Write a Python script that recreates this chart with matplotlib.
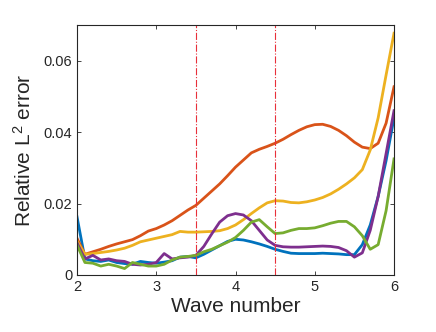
"""
Relative L2 error vs wave number
"""

import numpy as np
import matplotlib.pyplot as plt

plt.rcParams['font.family'] = ['Liberation Sans', 'DejaVu Sans']
plt.rcParams['mathtext.fontset'] = 'custom'
plt.rcParams['mathtext.rm'] = 'Liberation Sans'
plt.rcParams['mathtext.it'] = 'Liberation Sans'

wave = np.round(np.arange(2.0, 6.01, 0.1), 1)

err_blue = [0.0163, 0.0045, 0.0040, 0.0038, 0.0042, 0.0035, 0.0032, 0.0030, 0.0038, 0.0035,
            0.0033, 0.0036, 0.0040, 0.0050, 0.0052, 0.0048, 0.0058, 0.0070, 0.0082, 0.0094,
            0.0100, 0.0098, 0.0093, 0.0087, 0.0080, 0.0072, 0.0066, 0.0061, 0.0060, 0.0060,
            0.0060, 0.0061, 0.0060, 0.0059, 0.0057, 0.0057, 0.0085, 0.0140, 0.0220, 0.0320,
            0.0440]
err_orange = [0.0103, 0.0058, 0.0065, 0.0072, 0.0080, 0.0087, 0.0093, 0.0099, 0.0110, 0.0123,
              0.0130, 0.0140, 0.0152, 0.0167, 0.0182, 0.0195, 0.0215, 0.0235, 0.0255, 0.0278,
              0.0302, 0.0322, 0.0342, 0.0352, 0.0360, 0.0369, 0.0380, 0.0393, 0.0405, 0.0415,
              0.0421, 0.0422, 0.0416, 0.0405, 0.0390, 0.0372, 0.0358, 0.0354, 0.0369, 0.0425,
              0.0527]
err_yellow = [0.0095, 0.0058, 0.0060, 0.0063, 0.0066, 0.0070, 0.0075, 0.0083, 0.0093, 0.0098,
              0.0103, 0.0108, 0.0113, 0.0122, 0.0120, 0.0120, 0.0121, 0.0122, 0.0124, 0.0130,
              0.0140, 0.0155, 0.0172, 0.0188, 0.0202, 0.0208, 0.0207, 0.0203, 0.0202, 0.0205,
              0.0210, 0.0217, 0.0227, 0.0240, 0.0255, 0.0272, 0.0295, 0.0350, 0.0440, 0.0560,
              0.0677]
err_purple = [0.0090, 0.0045, 0.0055, 0.0042, 0.0045, 0.0040, 0.0038, 0.0030, 0.0028, 0.0030,
              0.0035, 0.0060, 0.0045, 0.0048, 0.0050, 0.0055, 0.0080, 0.0115, 0.0148, 0.0166,
              0.0172, 0.0168, 0.0152, 0.0125, 0.0098, 0.0083, 0.0079, 0.0078, 0.0078, 0.0079,
              0.0080, 0.0081, 0.0080, 0.0077, 0.0068, 0.0050, 0.0062, 0.0125, 0.0220, 0.0340,
              0.0460]
err_green = [0.0084, 0.0035, 0.0033, 0.0025, 0.0030, 0.0025, 0.0018, 0.0035, 0.0030, 0.0025,
             0.0025, 0.0030, 0.0042, 0.0050, 0.0052, 0.0055, 0.0065, 0.0072, 0.0082, 0.0092,
             0.0105, 0.0125, 0.0148, 0.0155, 0.0135, 0.0116, 0.0118, 0.0125, 0.0130, 0.0130,
             0.0132, 0.0138, 0.0145, 0.0150, 0.0150, 0.0135, 0.0110, 0.0072, 0.0085, 0.0180,
             0.0325]

series = [err_blue, err_orange, err_yellow, err_purple, err_green]
colors = ['#0072BD', '#D95319', '#EDB120', '#7E2F8E', '#77AC30']
vlines = [3.5, 4.5]

xticks = [2, 3, 4, 5, 6]
yticks = [0, 0.02, 0.04, 0.06]
ytick_labels = ['0', '0.02', '0.04', '0.06']

fig = plt.figure(figsize=(4.36, 3.32), dpi=100)
ax = fig.add_axes([0.1766, 0.1717, 0.7271, 0.7530])

for s, c in zip(series, colors):
    ax.plot(wave, s, color=c, lw=2.0)

for v in vlines:
    ax.axvline(v, color='#E8303A', lw=0.8, ls='-.')

ax.set_xlim(2, 6)
ax.set_ylim(0, 0.07)
ax.set_xticks(xticks)
ax.set_xticklabels([str(t) for t in xticks])
ax.set_yticks(yticks)
ax.set_yticklabels(ytick_labels)
ax.tick_params(direction='in', top=True, right=True, length=3, width=0.6,
               colors='#262626', labelsize=10.5)
for sp in ax.spines.values():
    sp.set_color('#262626')
    sp.set_linewidth(0.8)

ax.set_xlabel('Wave number', fontsize=15, color='#262626', labelpad=2)
ax.set_ylabel('Relative L$^2$ error', fontsize=15, color='#262626', labelpad=6)

fig.savefig('out.png', dpi=100)
